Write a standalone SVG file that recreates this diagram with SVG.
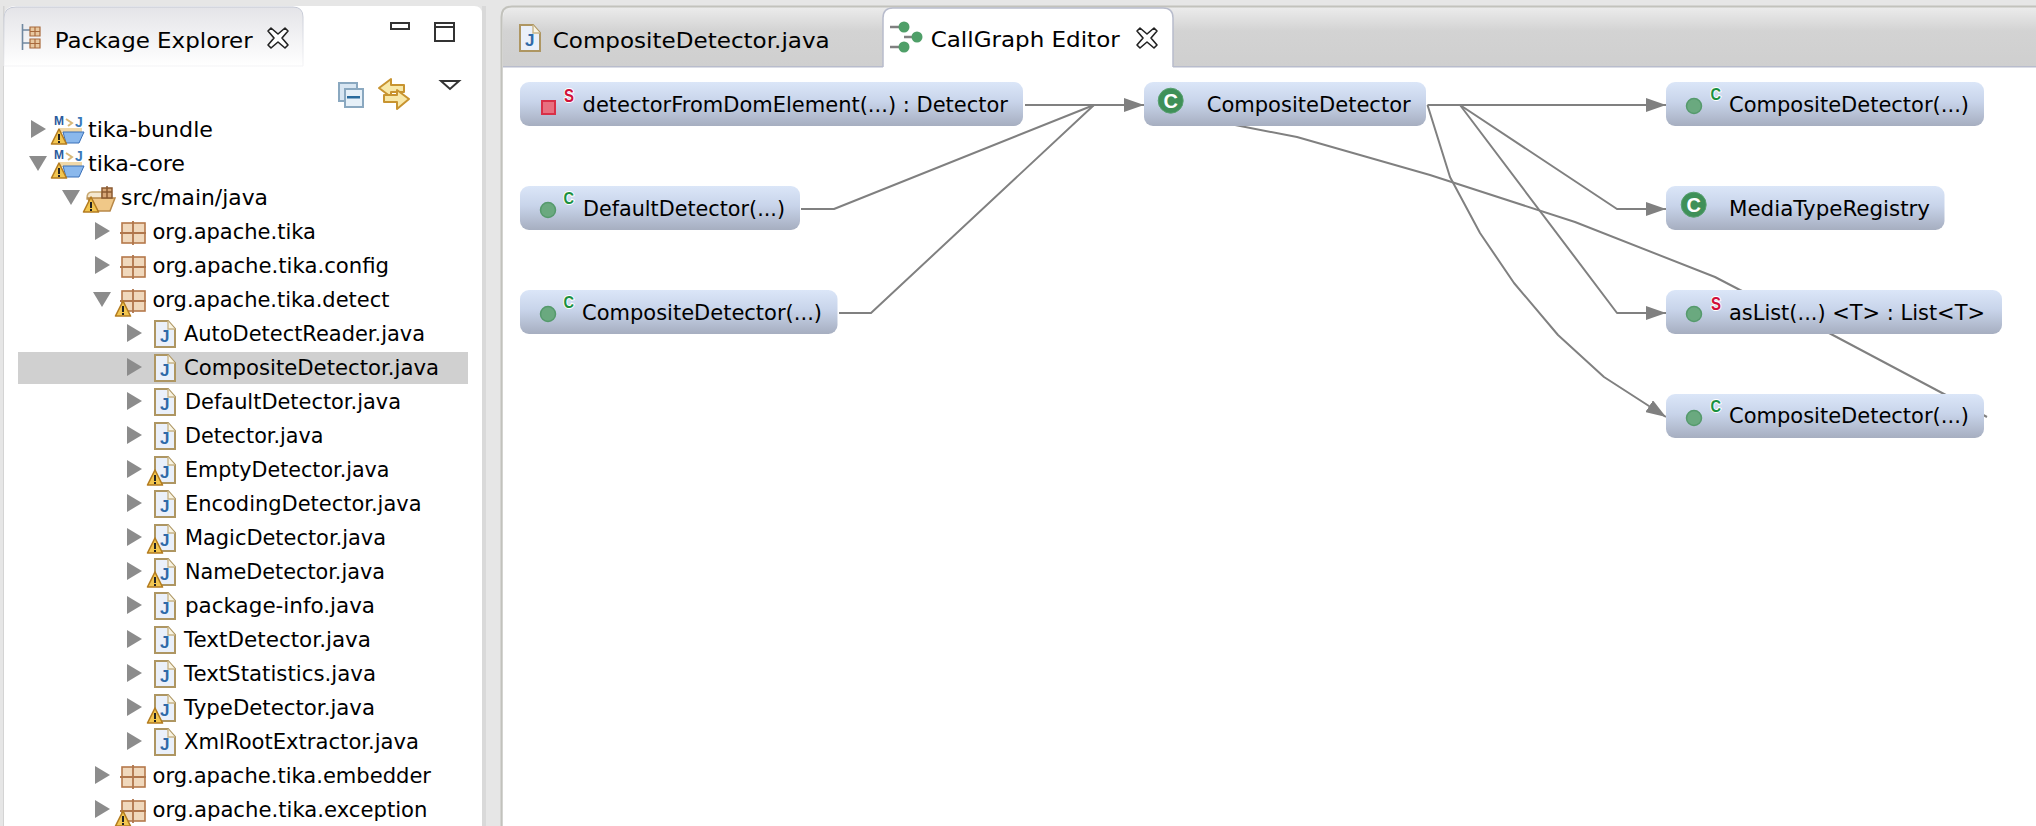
<svg xmlns="http://www.w3.org/2000/svg" width="2036" height="826" viewBox="0 0 2036 826">
<style>
text{font-family:"DejaVu Sans","Liberation Sans",sans-serif;fill:#000;font-size:22px}
.node{fill:url(#nodeG)}
.edge{fill:none;stroke:#808080;stroke-width:2;stroke-linejoin:round}
.arr{marker-end:url(#ah)}
.tri{fill:#8c8c8c}
.dot{fill:#6aa97f;stroke:#559a6c;stroke-width:1.5}
.sup{font-family:"Liberation Sans",sans-serif;font-weight:700;paint-order:stroke;stroke:#fff;stroke-width:2px}
.supC{fill:#1a9040;font-size:16px}
.supS{fill:#d0103a;font-size:19px}
.cls{fill:#3f9058;stroke:#58a070;stroke-width:1}
.clsT{font-family:"Liberation Sans",sans-serif;font-weight:700;font-size:20px;fill:#fff;text-anchor:middle}
.ic{font-family:"Liberation Sans",sans-serif;font-weight:700}
</style>
<defs>
<linearGradient id="nodeG" x1="0" y1="0" x2="0" y2="1"><stop offset="0" stop-color="#dbe6f8"/><stop offset=".45" stop-color="#c8d4ea"/><stop offset="1" stop-color="#a6aec0"/></linearGradient>
<linearGradient id="stripG" x1="0" y1="0" x2="0" y2="1"><stop offset="0" stop-color="#ececec"/><stop offset=".4" stop-color="#d3d3d3"/><stop offset="1" stop-color="#cfcfcf"/></linearGradient>
<linearGradient id="tabG" x1="0" y1="0" x2="0" y2="1"><stop offset="0" stop-color="#e4e4e8"/><stop offset="1" stop-color="#ffffff"/></linearGradient>
<linearGradient id="tabS" x1="0" y1="0" x2="0" y2="1"><stop offset="0" stop-color="#c4c8d4"/><stop offset="1" stop-color="#f4f4f6"/></linearGradient>
<marker id="ah" markerUnits="userSpaceOnUse" markerWidth="20" markerHeight="14" refX="20" refY="7" orient="auto"><polygon points="0,0 20,7 0,14" fill="#808080"/></marker>
<polygon id="triC" class="tri" points="0,-17 15,-8 0,1"/>
<polygon id="triE" class="tri" points="-2,-15 16,-15 7,0"/>
<g id="warn"><polygon points="0,-8 7.5,7 -7.5,7" fill="#f2c650" stroke="#b47c20" stroke-width="1.6" stroke-linejoin="round"/><rect x="-1" y="-3" width="2" height="6" fill="#222"/><rect x="-1" y="4" width="2" height="2" fill="#222"/></g>
<g id="pkg"><rect x="2" y="-16" width="23" height="20" fill="#f0d8bc" stroke="#b5784a" stroke-width="1.6"/><path d="M13,-18V6M0,-6H26" stroke="#b0764c" stroke-width="1.8" fill="none"/></g>
<g id="jav"><path d="M1,-20H14L21,-12V6H1Z" fill="#eaf0fa" stroke="#ae9662" stroke-width="2"/><path d="M14,-20V-12H21" fill="#f8f4e4" stroke="#c8b488" stroke-width="1.4"/><text class="ic" x="6" y="1" style="font-size:17px;fill:#2f6aa8">J</text></g>
<g id="prj"><text class="ic" x="0" y="-12" style="font-size:12px;fill:#2a5a9c">M</text><text class="ic" x="21" y="-10" style="font-size:14px;fill:#3a78b8">J</text><path d="M12,-18l6,4l-4,3" fill="none" stroke="#d8b878" stroke-width="2"/><path d="M6,-9H28V-4H6Z" fill="#f0d8a8"/><path d="M9,-5H30L25,6H12Z" fill="#8ab8ec" stroke="#3a70b8" stroke-width="1"/></g>
<g id="xx"><path d="M-10,-7L-7,-10L0,-4L7,-10L10,-7L4,0L10,7L7,10L0,4L-7,10L-10,7L-4,0Z" fill="#fff" stroke="#222" stroke-width="1.6" stroke-linejoin="round"/></g>
</defs>

<rect width="2036" height="826" fill="#e6e6e6"/>

<g id="package-explorer">
<rect x="3" y="6" width="1.5" height="820" fill="#d4d4d4"/>
<rect x="482" y="6" width="4" height="820" fill="#d9d9d9"/>
<path d="M4,66V18Q4,6 16,6H474Q482,6 482,14V826H4Z" fill="#fff"/>
<path d="M4,66V18Q4,7 16,7H293Q303,7 303,17V66Z" fill="url(#tabG)" stroke="url(#tabS)" stroke-width="1"/>
<path d="M22.5,24V50M22.5,30H30M22.5,43H30" stroke="#7088a0" stroke-width="1.6" fill="none"/>
<path d="M30,27h10v9h-10zM30,39h10v9h-10zM35,27v9M30,31.5h10M35,39v9M30,43.5h10" fill="#e8c8a0" stroke="#a86a3c" stroke-width="1.2"/>
<text x="54.7" y="48" textLength="198" lengthAdjust="spacingAndGlyphs">Package Explorer</text>
<use href="#xx" x="278" y="38"/>
<rect x="391" y="23" width="18" height="6" fill="#fff" stroke="#333" stroke-width="2"/>
<path d="M435,23h19v18h-19zM435,27h19" fill="#fff" stroke="#333" stroke-width="2"/>
<polygon points="441,81 459,81 450,89" fill="#fff" stroke="#333" stroke-width="2"/>
<rect x="339" y="83" width="18" height="18" fill="#d8e6f2" stroke="#8aa8c0" stroke-width="2"/>
<rect x="345" y="89" width="18" height="18" fill="#e6f0f8" stroke="#8aa8c0" stroke-width="2"/>
<rect x="347" y="96" width="13" height="2.5" fill="#2a6a9c"/>
<path d="M379,88L391,79V85H404V92H391V97Z" fill="#f8e8a8" stroke="#c89430" stroke-width="2" stroke-linejoin="round"/>
<path d="M409,99L397,90V95H384V102H397V109Z" fill="#f8e8a8" stroke="#c89430" stroke-width="2" stroke-linejoin="round"/>
<rect x="18" y="352" width="450" height="32" fill="#d0d0d0"/>

<g id="row-tika-bundle"><use href="#triC" x="31" y="137"/><use href="#prj" x="54" y="137"/><use href="#warn" x="59" y="137"/><text x="88" y="137" textLength="125" lengthAdjust="spacingAndGlyphs">tika-bundle</text></g>
<g id="row-tika-core"><use href="#triE" x="31" y="171"/><use href="#prj" x="54" y="171"/><use href="#warn" x="59" y="171"/><text x="88" y="171" textLength="97" lengthAdjust="spacingAndGlyphs">tika-core</text></g>
<g id="row-src"><use href="#triE" x="64" y="205"/><path d="M87,198Q87,192 92,192H102V199H87Z" fill="#f4e8d0" stroke="#c8a870" stroke-width="1.5"/><path d="M88,198H115L110,211H92Z" fill="#f0c888" stroke="#b88848" stroke-width="1.5"/><path d="M102,188h10v10h-10zM107,186v12M102,192h10" fill="#d8a878" stroke="#8a5a30" stroke-width="1.5"/><use href="#warn" x="91" y="205"/><text x="121" y="205" textLength="147" lengthAdjust="spacingAndGlyphs">src/main/java</text></g>
<g id="row-pkg-tika"><use href="#triC" x="95" y="239"/><use href="#pkg" x="120" y="239"/><text x="152.5" y="239" textLength="163.5" lengthAdjust="spacingAndGlyphs">org.apache.tika</text></g>
<g id="row-pkg-config"><use href="#triC" x="95" y="273"/><use href="#pkg" x="120" y="273"/><text x="152.5" y="273" textLength="236.5" lengthAdjust="spacingAndGlyphs">org.apache.tika.config</text></g>
<g id="row-pkg-detect"><use href="#triE" x="95" y="307"/><use href="#pkg" x="120" y="307"/><use href="#warn" x="123" y="309"/><text x="152.5" y="307" textLength="237" lengthAdjust="spacingAndGlyphs">org.apache.tika.detect</text></g>
<g id="row-autodetect"><use href="#triC" x="127" y="341"/><use href="#jav" x="154" y="341"/><text x="184" y="341" textLength="241" lengthAdjust="spacingAndGlyphs">AutoDetectReader.java</text></g>
<g id="row-composite"><use href="#triC" x="127" y="375"/><use href="#jav" x="154" y="375"/><text x="184" y="375" textLength="255" lengthAdjust="spacingAndGlyphs">CompositeDetector.java</text></g>
<g id="row-default"><use href="#triC" x="127" y="409"/><use href="#jav" x="154" y="409"/><text x="185" y="409" textLength="216" lengthAdjust="spacingAndGlyphs">DefaultDetector.java</text></g>
<g id="row-detector"><use href="#triC" x="127" y="443"/><use href="#jav" x="154" y="443"/><text x="185" y="443" textLength="138.5" lengthAdjust="spacingAndGlyphs">Detector.java</text></g>
<g id="row-empty"><use href="#triC" x="127" y="477"/><use href="#jav" x="154" y="477"/><use href="#warn" x="155" y="478"/><text x="185" y="477" textLength="204.5" lengthAdjust="spacingAndGlyphs">EmptyDetector.java</text></g>
<g id="row-encoding"><use href="#triC" x="127" y="511"/><use href="#jav" x="154" y="511"/><text x="185" y="511" textLength="236.5" lengthAdjust="spacingAndGlyphs">EncodingDetector.java</text></g>
<g id="row-magic"><use href="#triC" x="127" y="545"/><use href="#jav" x="154" y="545"/><use href="#warn" x="155" y="546"/><text x="185" y="545" textLength="201" lengthAdjust="spacingAndGlyphs">MagicDetector.java</text></g>
<g id="row-name"><use href="#triC" x="127" y="579"/><use href="#jav" x="154" y="579"/><use href="#warn" x="155" y="580"/><text x="185" y="579" textLength="200" lengthAdjust="spacingAndGlyphs">NameDetector.java</text></g>
<g id="row-package-info"><use href="#triC" x="127" y="613"/><use href="#jav" x="154" y="613"/><text x="185" y="613" textLength="190" lengthAdjust="spacingAndGlyphs">package-info.java</text></g>
<g id="row-text"><use href="#triC" x="127" y="647"/><use href="#jav" x="154" y="647"/><text x="184" y="647" textLength="187" lengthAdjust="spacingAndGlyphs">TextDetector.java</text></g>
<g id="row-statistics"><use href="#triC" x="127" y="681"/><use href="#jav" x="154" y="681"/><text x="184" y="681" textLength="192" lengthAdjust="spacingAndGlyphs">TextStatistics.java</text></g>
<g id="row-type"><use href="#triC" x="127" y="715"/><use href="#jav" x="154" y="715"/><use href="#warn" x="155" y="716"/><text x="184" y="715" textLength="191" lengthAdjust="spacingAndGlyphs">TypeDetector.java</text></g>
<g id="row-xml"><use href="#triC" x="127" y="749"/><use href="#jav" x="154" y="749"/><text x="184" y="749" textLength="235" lengthAdjust="spacingAndGlyphs">XmlRootExtractor.java</text></g>
<g id="row-pkg-embedder"><use href="#triC" x="95" y="783"/><use href="#pkg" x="120" y="783"/><text x="152.5" y="783" textLength="278.5" lengthAdjust="spacingAndGlyphs">org.apache.tika.embedder</text></g>
<g id="row-pkg-exception"><use href="#triC" x="95" y="817"/><use href="#pkg" x="120" y="817"/><use href="#warn" x="123" y="819"/><text x="152.5" y="817" textLength="275" lengthAdjust="spacingAndGlyphs">org.apache.tika.exception</text></g>
</g>

<g id="editor">
<path d="M503,826V17Q503,7 513,7H2036V826Z" fill="#fff"/>
<path d="M503,67V17Q503,7 513,7H2036V67Z" fill="url(#stripG)"/>
<path d="M501.5,826V17Q501.5,6.5 512,6.5H2036" fill="none" stroke="#c2c2bc" stroke-width="2"/>
<rect x="503" y="66" width="1533" height="1.5" fill="#b8bccc"/>
<g id="tab-source"><use href="#jav" x="519" y="45"/><text x="552.7" y="48" textLength="277" lengthAdjust="spacingAndGlyphs">CompositeDetector.java</text></g>
<g id="tab-callgraph">
<path d="M883,68V18Q883,8 893,8H1163Q1173,8 1173,18V68Z" fill="#fff"/>
<path d="M883,67V18Q883,8 893,8H1163Q1173,8 1173,18V67" fill="none" stroke="#b8bccc" stroke-width="1.5"/>
<path d="M890,27H900M904,37H912M890,47H900" stroke="#808080" stroke-width="2.4" fill="none"/>
<circle cx="904" cy="27" r="5.5" fill="#4f9f68"/><circle cx="917" cy="37" r="5.5" fill="#4f9f68"/><circle cx="904" cy="47" r="5.5" fill="#4f9f68"/>
<text x="930.7" y="47" textLength="189" lengthAdjust="spacingAndGlyphs">CallGraph Editor</text>
<use href="#xx" x="1147" y="38"/>
</g>
</g>

<g id="connectors">
<path class="edge arr" d="M1025,105H1144"/>
<path class="edge" d="M801,209H834L1094,105"/>
<path class="edge" d="M839,313H871L1094,105"/>
<path class="edge arr" d="M1427.5,105H1666"/>
<path class="edge arr" d="M1460,105L1617,209H1666"/>
<path class="edge arr" d="M1460,105L1617,313H1666"/>
<path class="edge arr" d="M1427.5,105L1450,177L1480,233L1514,283L1558,335L1604,377L1666,417"/>
<path class="edge" d="M1230,124L1297,137L1430,175L1575,222L1715,277L1740,290L1829,333L1944,394L1987,417"/>
</g>

<g id="node-detectorFromDomElement"><rect class="node" x="520" y="82" width="503" height="44" rx="9"/><rect x="542" y="101" width="13" height="13" fill="#e87080" stroke="#d83048" stroke-width="2"/><text class="sup supS" x="564" y="102" textLength="10" lengthAdjust="spacingAndGlyphs">S</text><text x="582.6" y="112" textLength="425.4" lengthAdjust="spacingAndGlyphs">detectorFromDomElement(...) : Detector</text></g>
<g id="node-DefaultDetector"><rect class="node" x="520" y="186" width="280" height="44" rx="9"/><circle class="dot" cx="548" cy="210" r="7.5"/><text class="sup supC" x="563.5" y="204" textLength="10.5" lengthAdjust="spacingAndGlyphs">C</text><text x="583" y="216" textLength="202" lengthAdjust="spacingAndGlyphs">DefaultDetector(...)</text></g>
<g id="node-CompositeDetector-caller"><rect class="node" x="520" y="290" width="317.5" height="44" rx="9"/><circle class="dot" cx="548" cy="314" r="7.5"/><text class="sup supC" x="563.5" y="308" textLength="10.5" lengthAdjust="spacingAndGlyphs">C</text><text x="582" y="320" textLength="240" lengthAdjust="spacingAndGlyphs">CompositeDetector(...)</text></g>
<g id="node-CompositeDetector-class"><rect class="node" x="1144" y="82" width="282" height="44" rx="9"/><circle class="cls" cx="1170.7" cy="100.7" r="12.5"/><text class="clsT" x="1170.7" y="108">C</text><text x="1206.7" y="112" textLength="204" lengthAdjust="spacingAndGlyphs">CompositeDetector</text></g>
<g id="node-CompositeDetector-ctor1"><rect class="node" x="1666" y="82" width="318" height="44" rx="9"/><circle class="dot" cx="1694" cy="106" r="7.5"/><text class="sup supC" x="1710.5" y="100" textLength="10.5" lengthAdjust="spacingAndGlyphs">C</text><text x="1729" y="112" textLength="240" lengthAdjust="spacingAndGlyphs">CompositeDetector(...)</text></g>
<g id="node-MediaTypeRegistry"><rect class="node" x="1666" y="186" width="278.5" height="44" rx="9"/><circle class="cls" cx="1693.7" cy="204.7" r="12.5"/><text class="clsT" x="1693.7" y="212">C</text><text x="1729" y="216" textLength="201" lengthAdjust="spacingAndGlyphs">MediaTypeRegistry</text></g>
<g id="node-asList"><rect class="node" x="1666" y="290" width="336" height="44" rx="9"/><circle class="dot" cx="1694" cy="314" r="7.5"/><text class="sup supS" x="1711" y="310" textLength="10" lengthAdjust="spacingAndGlyphs">S</text><text x="1729" y="320" textLength="256" lengthAdjust="spacingAndGlyphs">asList(...) &lt;T&gt; : List&lt;T&gt;</text></g>
<g id="node-CompositeDetector-ctor2"><rect class="node" x="1666" y="394" width="318" height="44" rx="9"/><circle class="dot" cx="1694" cy="418" r="7.5"/><text class="sup supC" x="1710.5" y="412" textLength="10.5" lengthAdjust="spacingAndGlyphs">C</text><text x="1729" y="423" textLength="240" lengthAdjust="spacingAndGlyphs">CompositeDetector(...)</text></g>
</svg>
